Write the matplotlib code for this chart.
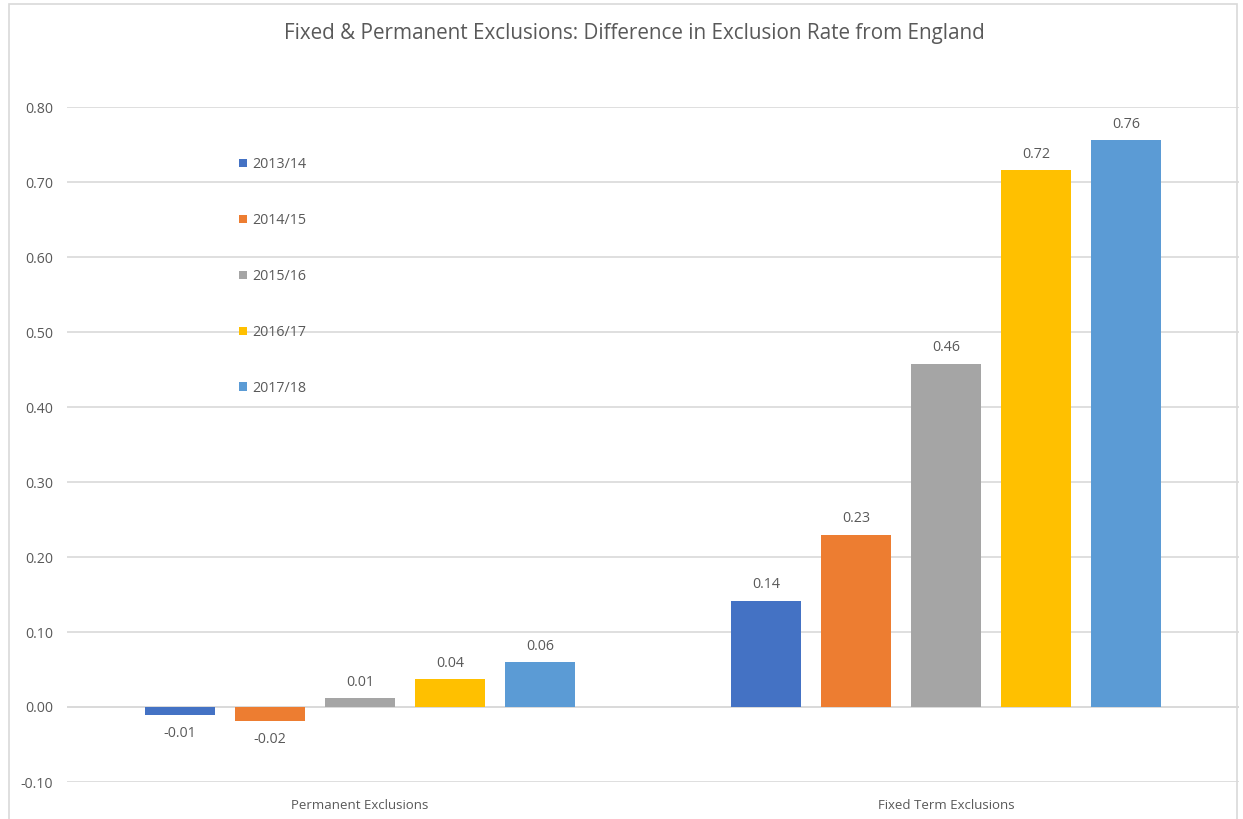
import matplotlib
matplotlib.use("Agg")
import matplotlib.pyplot as plt
from matplotlib.patches import Rectangle
import numpy as np

plt.rcParams['font.family'] = ['Open Sans', 'DejaVu Sans']

categories = ["Permanent Exclusions", "Fixed Term Exclusions"]
years = ["2013/14", "2014/15", "2015/16", "2016/17", "2017/18"]
diff_2013_14 = [-0.011, 0.142]
diff_2014_15 = [-0.018, 0.230]
diff_2015_16 = [0.012, 0.458]
diff_2016_17 = [0.037, 0.716]
diff_2017_18 = [0.060, 0.756]
series = [diff_2013_14, diff_2014_15, diff_2015_16, diff_2016_17, diff_2017_18]
colors = ["#4472C4", "#ED7D31", "#A5A5A5", "#FFC000", "#5B9BD5"]
yticks = [-0.10, 0.00, 0.10, 0.20, 0.30, 0.40, 0.50, 0.60, 0.70, 0.80]

W, H = 1243, 819
fig = plt.figure(figsize=(W / 100, H / 100), dpi=100)

# chart-area border
fig.patches.append(Rectangle((9 / W, -0.01), (1237 - 9) / W, 1 - 4 / H + 0.01,
                             transform=fig.transFigure, fill=False,
                             edgecolor="#D9D9D9", linewidth=1.2))

ax = fig.add_axes([67 / W, 1 - 782 / H, (1239 - 67) / W, (782 - 107) / H])

x = np.arange(len(categories))
bar_w = 70 / 586
step = 90 / 586
text_col = "#595959"

for i, (vals, col, lab) in enumerate(zip(series, colors, years)):
    pos = x + (i - 2) * step
    bars = ax.bar(pos, vals, width=bar_w, color=col, label=lab, zorder=3)
    for b, v in zip(bars, vals):
        off = 6 if v >= 0 else -8
        ax.annotate(f"{v:.2f}", (b.get_x() + b.get_width() / 2, v),
                    xytext=(0, off), textcoords="offset points",
                    ha="center", va="bottom" if v >= 0 else "top",
                    fontsize=10.3, color=text_col)

ax.set_xlim(-0.5, 1.5)
ax.set_ylim(-0.10, 0.80)
ax.set_yticks(yticks)
ax.set_yticklabels([f"{t:.2f}" for t in yticks])
ax.set_xticks(x)
ax.set_xticklabels(categories)
ax.tick_params(axis="both", length=0, labelcolor=text_col)
ax.tick_params(axis="y", pad=10, labelsize=10.2)
ax.tick_params(axis="x", pad=12, labelsize=9.5)
ax.grid(axis="y", color="#D9D9D9", linewidth=1.2, zorder=0)
ax.axhline(0, color="#D9D9D9", linewidth=1.2, zorder=1)
for s in ax.spines.values():
    s.set_visible(False)

leg = ax.legend(loc="upper left", bbox_to_anchor=(165 / 1172, 1 - 43 / 675),
                frameon=False, fontsize=10.3, labelspacing=2.86,
                handlelength=0.55, handleheight=0.55, handletextpad=0.35,
                borderpad=0)
for t in leg.get_texts():
    t.set_color(text_col)

fig.text(634 / W, 1 - 33 / H, "Fixed & Permanent Exclusions: Difference in Exclusion Rate from England",
         ha="center", va="center", fontsize=14.9, color=text_col)

fig.savefig("out.png", dpi=100)
